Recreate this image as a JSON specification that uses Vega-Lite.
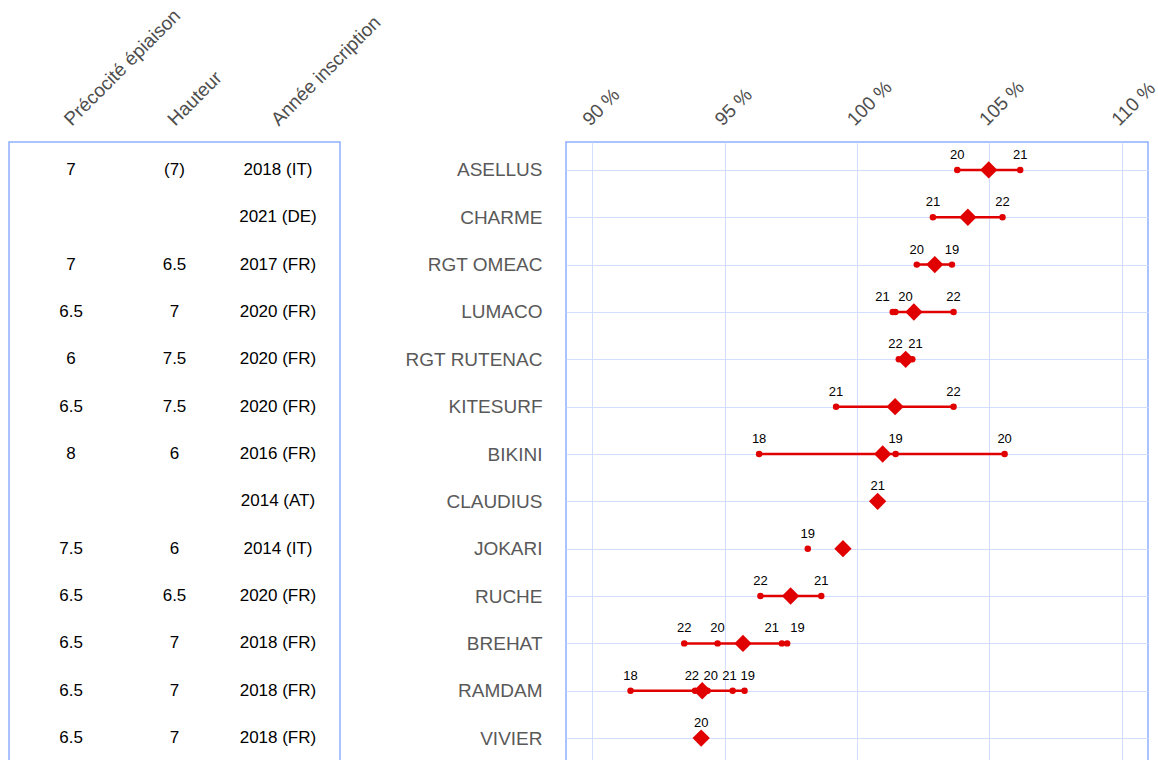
{
  "$schema": "https://vega.github.io/schema/vega-lite/v6.json",
  "autosize": {"type": "pad"},
  "padding": {"left": 8, "top": 5, "right": 0, "bottom": 0},
  "background": "white",
  "bounds": "flush",
  "spacing": 226,
  "config": {
    "font": "Liberation Sans",
    "view": {"stroke": "#8fb0ff", "strokeWidth": 1.5}
  },
  "datasets": {
    "varieties": [
      {"variety": "ASELLUS", "value": 104.98, "Précocité épiaison": "7", "Hauteur": "(7)", "Année inscription": "2018 (IT)"},
      {"variety": "CHARME", "value": 104.19, "Précocité épiaison": "", "Hauteur": "", "Année inscription": "2021 (DE)"},
      {"variety": "RGT OMEAC", "value": 102.94, "Précocité épiaison": "7", "Hauteur": "6.5", "Année inscription": "2017 (FR)"},
      {"variety": "LUMACO", "value": 102.15, "Précocité épiaison": "6.5", "Hauteur": "7", "Année inscription": "2020 (FR)"},
      {"variety": "RGT RUTENAC", "value": 101.84, "Précocité épiaison": "6", "Hauteur": "7.5", "Année inscription": "2020 (FR)"},
      {"variety": "KITESURF", "value": 101.44, "Précocité épiaison": "6.5", "Hauteur": "7.5", "Année inscription": "2020 (FR)"},
      {"variety": "BIKINI", "value": 100.97, "Précocité épiaison": "8", "Hauteur": "6", "Année inscription": "2016 (FR)"},
      {"variety": "CLAUDIUS", "value": 100.78, "Précocité épiaison": "", "Hauteur": "", "Année inscription": "2014 (AT)"},
      {"variety": "JOKARI", "value": 99.47, "Précocité épiaison": "7.5", "Hauteur": "6", "Année inscription": "2014 (IT)"},
      {"variety": "RUCHE", "value": 97.49, "Précocité épiaison": "6.5", "Hauteur": "6.5", "Année inscription": "2020 (FR)"},
      {"variety": "BREHAT", "value": 95.69, "Précocité épiaison": "6.5", "Hauteur": "7", "Année inscription": "2018 (FR)"},
      {"variety": "RAMDAM", "value": 94.15, "Précocité épiaison": "6.5", "Hauteur": "7", "Année inscription": "2018 (FR)"},
      {"variety": "VIVIER", "value": 94.11, "Précocité épiaison": "6.5", "Hauteur": "7", "Année inscription": "2018 (FR)"}
    ],
    "years": [
      {"variety": "ASELLUS", "year": "20", "value": 103.79},
      {"variety": "ASELLUS", "year": "21", "value": 106.17},
      {"variety": "CHARME", "year": "21", "value": 102.87},
      {"variety": "CHARME", "year": "22", "value": 105.5},
      {"variety": "RGT OMEAC", "year": "20", "value": 102.26},
      {"variety": "RGT OMEAC", "year": "19", "value": 103.59},
      {"variety": "LUMACO", "year": "21", "value": 101.35},
      {"variety": "LUMACO", "year": "20", "value": 101.45},
      {"variety": "LUMACO", "year": "22", "value": 103.65},
      {"variety": "RGT RUTENAC", "year": "22", "value": 101.58},
      {"variety": "RGT RUTENAC", "year": "21", "value": 102.09},
      {"variety": "KITESURF", "year": "21", "value": 99.21},
      {"variety": "KITESURF", "year": "22", "value": 103.65},
      {"variety": "BIKINI", "year": "18", "value": 96.3},
      {"variety": "BIKINI", "year": "19", "value": 101.46},
      {"variety": "BIKINI", "year": "20", "value": 105.58},
      {"variety": "CLAUDIUS", "year": "21", "value": 100.78},
      {"variety": "JOKARI", "year": "19", "value": 98.14},
      {"variety": "RUCHE", "year": "22", "value": 96.35},
      {"variety": "RUCHE", "year": "21", "value": 98.65},
      {"variety": "BREHAT", "year": "22", "value": 93.47},
      {"variety": "BREHAT", "year": "20", "value": 94.73},
      {"variety": "BREHAT", "year": "21", "value": 97.16},
      {"variety": "BREHAT", "year": "19", "value": 97.36},
      {"variety": "RAMDAM", "year": "18", "value": 91.44},
      {"variety": "RAMDAM", "year": "22", "value": 93.88},
      {"variety": "RAMDAM", "year": "20", "value": 94.35},
      {"variety": "RAMDAM", "year": "21", "value": 95.3},
      {"variety": "RAMDAM", "year": "19", "value": 95.75},
      {"variety": "VIVIER", "year": "20", "value": 94.11}
    ]
  },
  "hconcat": [
    {
      "width": 331,
      "height": 624,
      "data": {"name": "varieties"},
      "transform": [{"fold": ["Précocité épiaison", "Hauteur", "Année inscription"], "as": ["col", "val"]}],
      "mark": {"type": "text", "fontSize": 17, "color": "black"},
      "encoding": {
        "x": {
          "field": "col", "type": "nominal",
          "sort": ["Précocité épiaison", "Hauteur", "Année inscription"],
          "scale": {"type": "point", "padding": 0.6},
          "axis": {"orient": "top", "title": null, "labelAngle": -45, "labelAlign": "left", "labelBaseline": "middle", "labelFontSize": 19, "labelColor": "#4d4d4d", "ticks": false, "domain": false, "grid": false, "labelPadding": 20, "labelOffset": -4, "labelLimit": 400}
        },
        "y": {
          "field": "variety", "type": "nominal",
          "sort": ["ASELLUS", "CHARME", "RGT OMEAC", "LUMACO", "RGT RUTENAC", "KITESURF", "BIKINI", "CLAUDIUS", "JOKARI", "RUCHE", "BREHAT", "RAMDAM", "VIVIER"],
          "scale": {"type": "point", "padding": 0.59},
          "axis": null
        },
        "text": {"field": "val"}
      }
    },
    {
      "width": 582,
      "height": 624,
      "encoding": {
        "x": {
          "field": "value", "type": "quantitative",
          "scale": {"domain": [89, 111], "nice": false, "zero": false},
          "axis": {"orient": "top", "title": null, "values": [90, 95, 100, 105, 110], "labelExpr": "datum.value + ' %'", "labelAngle": -45, "labelAlign": "left", "labelBaseline": "middle", "labelFontSize": 19, "labelColor": "#4d4d4d", "ticks": false, "domain": false, "grid": true, "gridColor": "#d3ddff", "gridWidth": 1, "gridOpacity": 1, "labelPadding": 20, "labelOffset": -7, "labelFlush": false, "labelOverlap": false}
        },
        "y": {
          "field": "variety", "type": "nominal",
          "sort": ["ASELLUS", "CHARME", "RGT OMEAC", "LUMACO", "RGT RUTENAC", "KITESURF", "BIKINI", "CLAUDIUS", "JOKARI", "RUCHE", "BREHAT", "RAMDAM", "VIVIER"],
          "scale": {"type": "point", "padding": 0.59},
          "axis": {"title": null, "labelFontSize": 19, "labelColor": "#595959", "ticks": false, "domain": false, "grid": true, "gridColor": "#d3ddff", "gridWidth": 1, "gridOpacity": 1, "labelPadding": 24, "labelLimit": 300}
        }
      },
      "layer": [
        {
          "data": {"name": "years"},
          "mark": {"type": "line", "color": "#e00000", "strokeWidth": 2.5},
          "encoding": {"detail": {"field": "variety"}}
        },
        {
          "data": {"values": [{}]},
          "mark": {"type": "rule", "color": "#0050ff", "strokeWidth": 4},
          "encoding": {"x": {"datum": 100}, "y": null}
        },
        {
          "data": {"name": "years"},
          "mark": {"type": "circle", "color": "#e00000", "size": 42, "opacity": 1}
        },
        {
          "data": {"name": "varieties"},
          "mark": {"type": "point", "shape": "diamond", "filled": true, "color": "#e00000", "size": 300, "opacity": 1}
        },
        {
          "data": {"name": "years"},
          "transform": [
            {"window": [{"op": "lag", "field": "value", "as": "prevv"}, {"op": "lead", "field": "value", "as": "nextv"}], "groupby": ["variety"], "sort": [{"field": "value"}], "frame": [null, null]}
          ],
          "encoding": {"text": {"field": "year"}},
          "layer": [
            {
              "transform": [{"filter": "(datum.nextv != null ? datum.nextv - datum.value : 99) < 0.3"}],
              "mark": {"type": "text", "fontSize": 13, "color": "black", "dy": -15, "align": "right", "dx": -3}
            },
            {
              "transform": [{"filter": "(datum.nextv != null ? datum.nextv - datum.value : 99) >= 0.3 && (datum.nextv != null ? datum.nextv - datum.value : 99) < 0.6"}],
              "mark": {"type": "text", "fontSize": 13, "color": "black", "dy": -15, "align": "right", "dx": 4}
            },
            {
              "transform": [{"filter": "(datum.nextv != null ? datum.nextv - datum.value : 99) >= 0.6 && (datum.prevv != null ? datum.value - datum.prevv : 99) < 0.3"}],
              "mark": {"type": "text", "fontSize": 13, "color": "black", "dy": -15, "align": "left", "dx": 3}
            },
            {
              "transform": [{"filter": "(datum.nextv != null ? datum.nextv - datum.value : 99) >= 0.6 && (datum.prevv != null ? datum.value - datum.prevv : 99) >= 0.3 && (datum.prevv != null ? datum.value - datum.prevv : 99) < 0.6"}],
              "mark": {"type": "text", "fontSize": 13, "color": "black", "dy": -15, "align": "left", "dx": -4}
            },
            {
              "transform": [{"filter": "(datum.nextv != null ? datum.nextv - datum.value : 99) >= 0.6 && (datum.prevv != null ? datum.value - datum.prevv : 99) >= 0.6"}],
              "mark": {"type": "text", "fontSize": 13, "color": "black", "dy": -15}
            }
          ]
        }
      ]
    }
  ]
}
